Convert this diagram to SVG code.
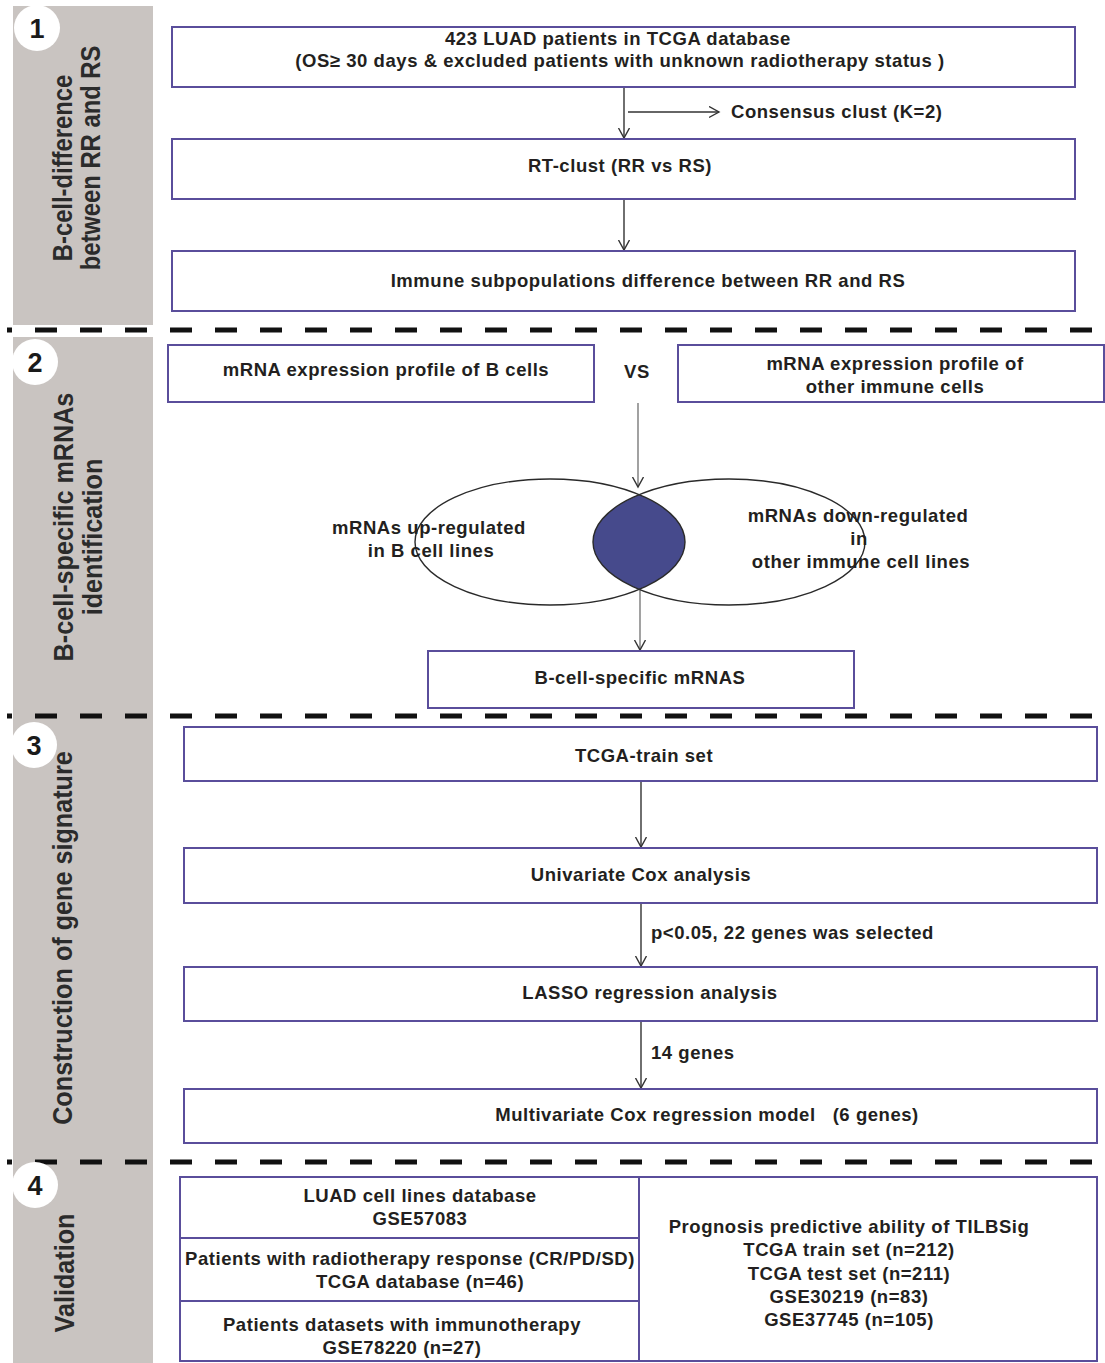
<svg xmlns="http://www.w3.org/2000/svg" width="1105" height="1363" viewBox="0 0 1105 1363">
<style>
.bg{fill:#ffffff}
.side{fill:#c9c4c1}
.num{fill:#ffffff}
.numt{font-family:"Liberation Sans",Arial,sans-serif;font-weight:bold;font-size:27px;fill:#1a1a1a;text-anchor:middle}
.st{font-family:"Liberation Sans",Arial,sans-serif;font-weight:bold;font-size:28px;fill:#2b2b2b;text-anchor:middle}
.box{fill:#ffffff;stroke:#5a4e9b;stroke-width:2}
.t{font-family:"Liberation Sans",Arial,sans-serif;font-weight:bold;font-size:18.5px;letter-spacing:0.55px;fill:#231f20;text-anchor:middle;white-space:pre}
.tl{font-family:"Liberation Sans",Arial,sans-serif;font-weight:bold;font-size:18.5px;letter-spacing:0.55px;fill:#231f20;text-anchor:start}
.dash{stroke:#111111;stroke-width:5;stroke-dasharray:22 23;fill:none}
.arr{stroke:#333333;stroke-width:1.4;fill:none;marker-end:url(#ah)}
.arrg{stroke:#555555;stroke-width:1.1;fill:none;marker-end:url(#ah)}
.ell{fill:none;stroke:#2a2a2a;stroke-width:1.4}
</style>
<defs>
<marker id="ah" markerUnits="userSpaceOnUse" markerWidth="14" markerHeight="14" refX="10" refY="6" orient="auto">
<path d="M0,0.5 L10,6 L0,11.5" fill="none" stroke="#333333" stroke-width="1.4"/>
</marker>
<clipPath id="lensclip"><ellipse cx="550" cy="542" rx="135" ry="63"/></clipPath>
</defs>
<rect class="bg" x="0" y="0" width="1105" height="1363"/>

<g id="sidebar">
<rect class="side" x="13" y="6" width="140" height="319"/>
<rect class="side" x="13" y="337" width="140" height="1026"/>
</g>

<g id="dividers">
<line class="dash" x1="7" y1="330" x2="1095" y2="330" stroke-dashoffset="17"/>
<line class="dash" x1="7" y1="716" x2="1095" y2="716" stroke-dashoffset="17"/>
<line class="dash" x1="7" y1="1162" x2="1095" y2="1162" stroke-dashoffset="17"/>
</g>

<g id="section-labels">
<g id="badge1"><circle class="num" cx="37" cy="28" r="23"/><text class="numt" x="37" y="38">1</text></g>
<g id="badge2"><circle class="num" cx="35" cy="362" r="23"/><text class="numt" x="35" y="372">2</text></g>
<g id="badge3"><circle class="num" cx="34" cy="745" r="23"/><text class="numt" x="34" y="755">3</text></g>
<g id="badge4"><circle class="num" cx="35" cy="1185" r="23"/><text class="numt" x="35" y="1195">4</text></g>
<g id="title1">
<text class="st" transform="translate(72,168) rotate(-90) scale(0.85,1)">B-cell-difference</text>
<text class="st" transform="translate(100,158) rotate(-90) scale(0.85,1)">between RR and RS</text>
</g>
<g id="title2">
<text class="st" transform="translate(73,527) rotate(-90) scale(0.9,1)">B-cell-specific mRNAs</text>
<text class="st" transform="translate(102,537) rotate(-90) scale(0.9,1)">identification</text>
</g>
<g id="title3">
<text class="st" transform="translate(72,938) rotate(-90) scale(0.9,1)">Construction of gene signature</text>
</g>
<g id="title4">
<text class="st" transform="translate(74,1273) rotate(-90) scale(0.9,1)">Validation</text>
</g>
</g>

<g id="connectors">
<line class="arr" x1="624" y1="87" x2="624" y2="138"/>
<line class="arr" x1="628" y1="112" x2="719" y2="112"/>
<line class="arr" x1="624" y1="199" x2="624" y2="250"/>
<line class="arrg" x1="638" y1="403" x2="638" y2="487"/>
<line class="arrg" x1="640" y1="588" x2="640" y2="650"/>
<line class="arr" x1="641" y1="781" x2="641" y2="847"/>
<line class="arr" x1="641" y1="903" x2="641" y2="966"/>
<line class="arr" x1="641" y1="1021" x2="641" y2="1088"/>
<text class="tl" x="731" y="118">Consensus clust (K=2)</text>
<text class="tl" x="651" y="939">p&lt;0.05, 22 genes was selected</text>
<text class="tl" x="651" y="1059">14 genes</text>
</g>

<g id="n-cohort">
<rect class="box" x="172" y="27" width="903" height="60"/>
<text class="t" x="618" y="45">423 LUAD patients in TCGA database</text>
<text class="t" x="620" y="67">(OS≥ 30 days &amp; excluded patients with unknown radiotherapy status )</text>
</g>
<g id="n-rtclust">
<rect class="box" x="172" y="139" width="903" height="60"/>
<text class="t" x="620" y="172">RT-clust (RR vs RS)</text>
</g>
<g id="n-immune">
<rect class="box" x="172" y="251" width="903" height="60"/>
<text class="t" x="648" y="287">Immune subpopulations difference between RR and RS</text>
</g>

<g id="n-bcells">
<rect class="box" x="168" y="345" width="426" height="57"/>
<text class="t" x="386" y="376">mRNA expression profile of B cells</text>
</g>
<g id="n-vs">
<text class="t" x="637" y="378">VS</text>
</g>
<g id="n-other">
<rect class="box" x="678" y="345" width="426" height="57"/>
<text class="t" x="895" y="370">mRNA expression profile of</text>
<text class="t" x="895" y="393">other immune cells</text>
</g>

<g id="n-venn">
<ellipse cx="729" cy="542" rx="136" ry="63" fill="#464a8c" clip-path="url(#lensclip)"/>
<ellipse class="ell" cx="550" cy="542" rx="135" ry="63"/>
<ellipse class="ell" cx="729" cy="542" rx="136" ry="63"/>
<text class="t" x="429" y="534">mRNAs up-regulated</text>
<text class="t" x="431" y="557">in B cell lines</text>
<text class="t" x="858" y="522">mRNAs down-regulated</text>
<text class="t" x="859" y="545">in</text>
<text class="t" x="861" y="568">other immune cell lines</text>
</g>

<g id="n-bspecific">
<rect class="box" x="428" y="651" width="426" height="57"/>
<text class="t" x="640" y="684">B-cell-specific mRNAS</text>
</g>

<g id="n-train">
<rect class="box" x="184" y="727" width="913" height="54"/>
<text class="t" x="644" y="762">TCGA-train set</text>
</g>
<g id="n-univariate">
<rect class="box" x="184" y="848" width="913" height="55"/>
<text class="t" x="641" y="881">Univariate Cox analysis</text>
</g>
<g id="n-lasso">
<rect class="box" x="184" y="967" width="913" height="54"/>
<text class="t" x="650" y="999">LASSO regression analysis</text>
</g>
<g id="n-multivariate">
<rect class="box" x="184" y="1089" width="913" height="54"/>
<text class="t" x="707" y="1121" xml:space="preserve">Multivariate Cox regression model   (6 genes)</text>
</g>

<g id="n-celllines">
<rect class="box" x="180" y="1177" width="459" height="61"/>
<text class="t" x="420" y="1202">LUAD cell lines database</text>
<text class="t" x="420" y="1225">GSE57083</text>
</g>
<g id="n-radio">
<rect class="box" x="180" y="1238" width="459" height="63"/>
<text class="t" x="410" y="1265">Patients with radiotherapy response (CR/PD/SD)</text>
<text class="t" x="420" y="1288">TCGA database (n=46)</text>
</g>
<g id="n-immuno">
<rect class="box" x="180" y="1301" width="459" height="60"/>
<text class="t" x="402" y="1331">Patients datasets with immunotherapy</text>
<text class="t" x="402" y="1354">GSE78220 (n=27)</text>
</g>
<g id="n-prognosis">
<rect class="box" x="639" y="1177" width="458" height="184"/>
<text class="t" x="849" y="1233">Prognosis predictive ability of TILBSig</text>
<text class="t" x="849" y="1256">TCGA train set (n=212)</text>
<text class="t" x="849" y="1280">TCGA test set (n=211)</text>
<text class="t" x="849" y="1303">GSE30219 (n=83)</text>
<text class="t" x="849" y="1326">GSE37745 (n=105)</text>
</g>
</svg>
